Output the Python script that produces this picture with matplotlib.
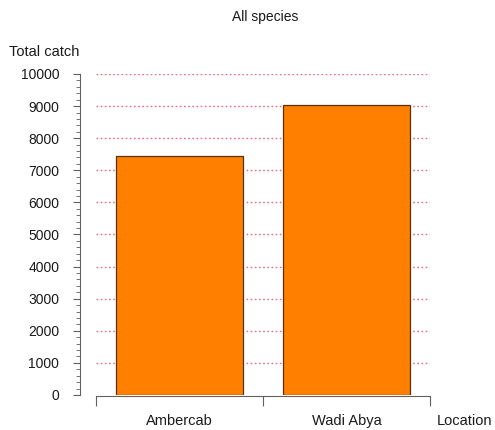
import matplotlib.pyplot as plt
from matplotlib.ticker import MultipleLocator

plt.rcParams['font.family'] = ['Liberation Sans', 'DejaVu Sans']

locations = ['Ambercab', 'Wadi Abya']
catch = [7450, 9030]

fig = plt.figure(figsize=(4.95, 4.3), dpi=100)
ax = fig.add_axes([80 / 495, 35 / 430, 350 / 495, 321 / 430])

x = list(range(len(locations)))
ax.set_axisbelow(True)
ax.bar(x, catch, width=0.755, color='#ff8000', edgecolor='#5a3010', linewidth=0.9, zorder=2)

ax.set_xlim(-0.596, 1.5)
ax.set_ylim(0, 10000)

# grid lines
for v in range(1000, 10001, 1000):
    ax.plot([-0.5, 1.5], [v, v], color='#ec6a86', linestyle=(0, (1.2, 1.8)), linewidth=1.0, zorder=1)

for s in ['top', 'right']:
    ax.spines[s].set_visible(False)
ax.spines['left'].set_color('#606060')
ax.spines['bottom'].set_color('#606060')
ax.spines['bottom'].set_bounds(-0.5, 1.5)
ax.spines['bottom'].set_position(('outward', 1))

ax.yaxis.set_major_locator(MultipleLocator(1000))
ax.yaxis.set_minor_locator(MultipleLocator(200))
ax.tick_params(axis='y', which='major', length=5, color='#606060', labelsize=10,
               labelcolor='#1a1a1a', pad=10)
ax.tick_params(axis='y', which='minor', length=3, color='#606060')

ax.set_xticks([-0.5, 0.5, 1.5])
ax.set_xticklabels([])
ax.set_xticks(x, minor=True)
ax.set_xticklabels(locations, minor=True)
ax.tick_params(axis='x', which='major', length=7, color='#606060')
ax.tick_params(axis='x', which='minor', length=0, labelsize=10.5, labelcolor='#1a1a1a', pad=13)

fig.text(265 / 495, 1 - 17 / 430, 'All species', ha='center', va='center', fontsize=10, color='#1a1a1a')
fig.text(9 / 495, 1 - 52 / 430, 'Total catch', ha='left', va='center', fontsize=10.5, color='#1a1a1a')
fig.text(437 / 495, 1 - 421 / 430, 'Location', ha='left', va='center', fontsize=10.5, color='#1a1a1a')

fig.savefig('out.png', dpi=100)
